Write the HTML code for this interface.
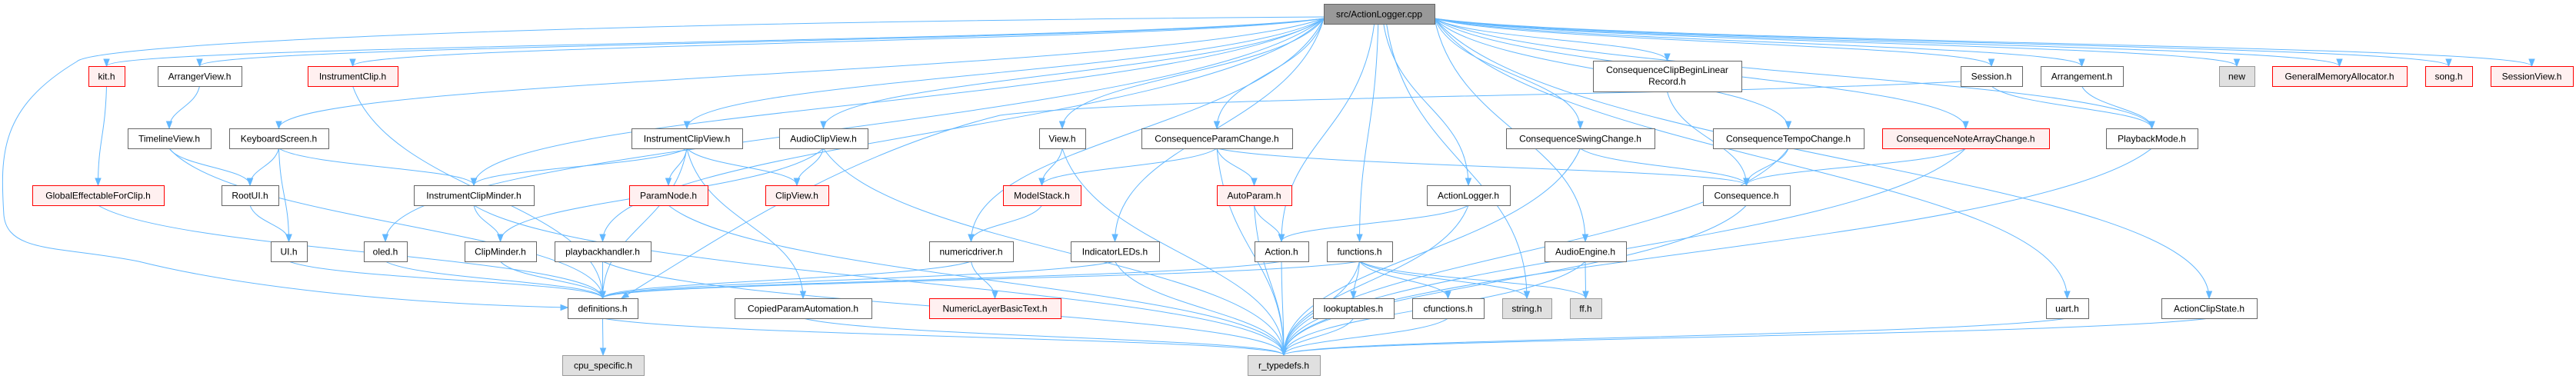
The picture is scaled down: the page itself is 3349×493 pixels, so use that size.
<!DOCTYPE html>
<html><head><meta charset="utf-8"><style>
html,body{margin:0;padding:0;background:#fff;}
svg{display:block;}
text{font-family:"Liberation Sans",Arial,sans-serif;font-size:12px;fill:#000;}
</style></head><body>
<svg id="g" width="3349" height="493" viewBox="0 0 3349 493" xmlns="http://www.w3.org/2000/svg"></svg>
<script>
var N={
src:[1721,5,1865,31,'src/ActionLogger.cpp','s'],
kit:[115,86,162,112,'kit.h','r'],
arrv:[205,86,314,112,'ArrangerView.h','n'],
iclip:[400,86,517,112,'InstrumentClip.h','r'],
tlv:[166,167,274,193,'TimelineView.h','n'],
kbs:[298,167,427,193,'KeyboardScreen.h','n'],
gefc:[42,241,213,267,'GlobalEffectableForClip.h','r'],
rootui:[288,241,362,267,'RootUI.h','n'],
icm:[538,241,694,267,'InstrumentClipMinder.h','n'],
ui:[352,314,399,340,'UI.h','n'],
oled:[473,314,529,340,'oled.h','n'],
cm:[604,314,697,340,'ClipMinder.h','n'],
icv:[821,167,965,193,'InstrumentClipView.h','n'],
acv:[1013,167,1128,193,'AudioClipView.h','n'],
pn:[818,241,920,267,'ParamNode.h','r'],
cv:[995,241,1077,267,'ClipView.h','r'],
pbh:[721,314,846,340,'playbackhandler.h','n'],
nd:[1208,314,1317,340,'numericdriver.h','n'],
defs:[738,388,829,414,'definitions.h','n'],
cpa:[955,388,1133,414,'CopiedParamAutomation.h','n'],
nlbt:[1208,388,1379,414,'NumericLayerBasicText.h','r'],
cpu:[731,462,837,488,'cpu_specific.h','g'],
view:[1351,167,1411,193,'View.h','n'],
cpc:[1484,167,1680,193,'ConsequenceParamChange.h','n'],
ms:[1304,241,1405,267,'ModelStack.h','r'],
ap:[1582,241,1679,267,'AutoParam.h','r'],
alh:[1855,241,1963,267,'ActionLogger.h','n'],
iled:[1392,314,1507,340,'IndicatorLEDs.h','n'],
act:[1631,314,1701,340,'Action.h','n'],
fn:[1725,314,1810,340,'functions.h','n'],
lt:[1707,388,1812,414,'lookuptables.h','n'],
cf:[1836,388,1929,414,'cfunctions.h','n'],
str:[1953,388,2017,414,'string.h','g'],
rt:[1622,462,1716,488,'r_typedefs.h','g'],
ccb:[2071,79,2264,119,'ConsequenceClipBeginLinear|Record.h','n'],
sess:[2549,86,2629,112,'Session.h','n'],
csw:[1958,167,2151,193,'ConsequenceSwingChange.h','n'],
ctc:[2227,167,2423,193,'ConsequenceTempoChange.h','n'],
cna:[2447,167,2664,193,'ConsequenceNoteArrayChange.h','r'],
cons:[2214,241,2327,267,'Consequence.h','n'],
ae:[2008,314,2114,340,'AudioEngine.h','n'],
ff:[2041,388,2082,414,'ff.h','g'],
arr:[2653,86,2760,112,'Arrangement.h','n'],
nw:[2885,86,2931,112,'new','g'],
gma:[2954,86,3129,112,'GeneralMemoryAllocator.h','r'],
song:[3153,86,3214,112,'song.h','r'],
sv:[3238,86,3345,112,'SessionView.h','r'],
pm:[2738,167,2857,193,'PlaybackMode.h','n'],
uart:[2660,388,2715,414,'uart.h','n'],
acs:[2810,388,2934,414,'ActionClipState.h','n']
};
var E=[];
['kit','arrv','iclip','kbs','icm','oled','pbh','icv','acv','nd','view','cpc','iled','act','fn','str','alh','ae','ccb','csw','ctc','cna','sess','arr','pm','uart','acs','nw','gma','song','sv','defs'].forEach(function(t){E.push(['src',t]);});
E=E.concat([['kit','gefc'],['gefc','defs'],['arrv','tlv'],['tlv','rootui'],['tlv','defs'],['kbs','rootui'],['kbs','ui'],['kbs','icm'],['rootui','ui'],['ui','defs'],['oled','defs'],['iclip','defs'],['icm','cm'],['icm','rt'],['cm','defs'],['icv','icm'],['icv','defs'],['icv','pn'],['icv','cv'],['icv','cpa'],['acv','cv'],['acv','cm'],['acv','rt'],['pn','rt'],['pbh','defs'],['pbh','rt'],['ms','nd'],['nd','defs'],['nd','nlbt'],['view','ms'],['view','rt'],['cpc','ms'],['cpc','ap'],['cpc','rt'],['cpc','cons'],['ap','act'],['ap','rt'],['alh','act'],['alh','rt'],['iled','defs'],['iled','rt'],['act','defs'],['act','rt'],['fn','defs'],['fn','lt'],['fn','cf'],['fn','str'],['fn','ff'],['fn','rt'],['lt','rt'],['cf','rt'],['ae','ff'],['ae','rt'],['ccb','cons'],['csw','cons'],['csw','rt'],['ctc','cons'],['ctc','rt'],['cna','cons'],['cna','rt'],['cons','rt'],['sess','defs'],['sess','pm'],['arr','pm'],['pm','rt'],['uart','rt'],['acs','rt'],['defs','cpu'],['defs','rt'],['cpa','rt']]);
var svg=document.getElementById('g'),out='';
var C='#63b8ff';
function arrow(x,y,dx,dy){
 var l=Math.sqrt(dx*dx+dy*dy)||1;dx/=l;dy/=l;
 var bx=x-dx*9,by=y-dy*9,px=-dy*3.5,py=dx*3.5;
 return '<polygon points="'+x+','+y+' '+(bx+px)+','+(by+py)+' '+(bx-px)+','+(by-py)+'" fill="'+C+'" stroke="'+C+'"/>';
}
E.forEach(function(e){
 var a=N[e[0]],b=N[e[1]];
 var sx=(a[0]+a[2])/2,sy=a[3],tx=(b[0]+b[2])/2,ty=b[1];
 var ex,ey,dx,dy,p;
 if(e[0]==='sess'&&e[1]==='defs'){
   p='M'+a[0]+','+(a[1]+20)+' C2200,125 1500,125 1300,150 C1100,200 950,300 '+(b[0]+70)+','+b[1];
   out+='<path d="'+p+'" fill="none" stroke="'+C+'" stroke-width="1"/>';
   out+=arrow(b[0]+70,b[1],-1.6,1);return;
 }
 if(e[0]==='src'){
   var side=tx<sx?-1:1;
   if(Math.abs(tx-sx)>200){sx=side<0?a[0]:a[2];sy=(a[1]+a[3])/2+6;}
   else{sx=sx+(tx-sx)*0.05;}
   if(e[1]==='defs'){
     p='M'+a[0]+',22 C600,30 120,60 100,80 C0,140 0,200 5,280 C10,330 80,320 180,340 C300,370 500,395 '+(b[0])+',400';
     out+='<path d="'+p+'" fill="none" stroke="'+C+'" stroke-width="1"/>';
     out+=arrow(b[0],400,1,0);return;
   }
 }
 if(b[1]===a[1]){
   var left=tx<sx;
   sx=left?a[0]:a[2];sy=(a[1]+a[3])/2;ex=left?b[2]:b[0];ey=(b[1]+b[3])/2;
   p='M'+sx+','+sy+' L'+ex+','+ey;dx=ex-sx;dy=0;
 } else {
   var h=ty-sy;
   p='M'+sx+','+sy+' C'+(sx+(tx-sx)*0.15)+','+(sy+h*0.5)+' '+tx+','+(ty-h*0.45)+' '+tx+','+ty;
   ex=tx;ey=ty;dx=0;dy=1;
 }
 out+='<path d="'+p+'" fill="none" stroke="'+C+'" stroke-width="1"/>';
 out+=arrow(ex,ey,dx,dy);
});
for(var k in N){
 var n=N[k],f='#fff',s='#666';
 if(n[5]==='r'){f='#fff0f0';s='#ff0000';}
 if(n[5]==='g'){f='#e0e0e0';s='#999';}
 if(n[5]==='s'){f='#999';s='#666';}
 out+='<rect x="'+(n[0]+0.5)+'" y="'+(n[1]+0.5)+'" width="'+(n[2]-n[0])+'" height="'+(n[3]-n[1])+'" fill="'+f+'" stroke="'+s+'" stroke-width="1"/>';
 var cx=(n[0]+n[2])/2,lines=n[4].split('|');
 if(lines.length===1){
  out+='<text x="'+cx+'" y="'+((n[1]+n[3])/2+4.5)+'" text-anchor="middle">'+lines[0]+'</text>';
 } else {
  out+='<text x="'+cx+'" y="'+(n[1]+16)+'" text-anchor="middle">'+lines[0]+'</text>';
  out+='<text x="'+cx+'" y="'+(n[1]+31)+'" text-anchor="middle">'+lines[1]+'</text>';
 }
}
svg.innerHTML=out;
</script>
</body></html>
